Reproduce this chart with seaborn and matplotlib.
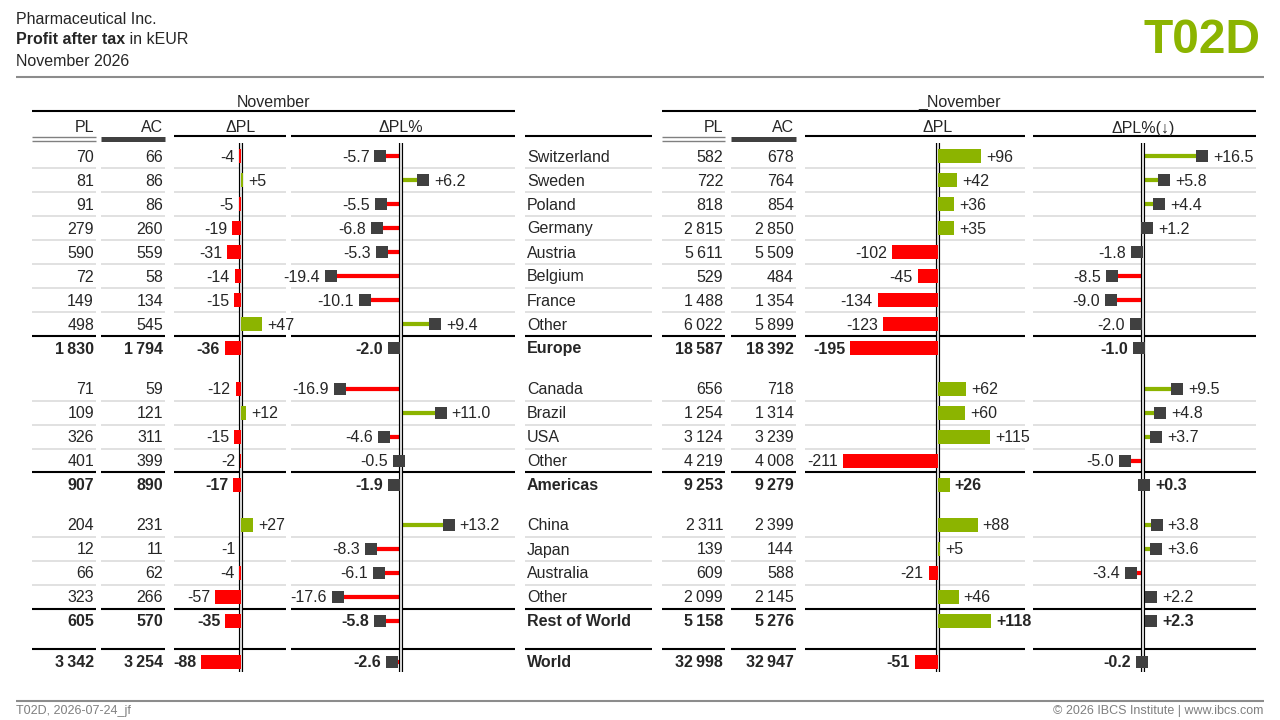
import matplotlib
matplotlib.use("Agg")
import matplotlib.pyplot as plt
import seaborn as sns
import pandas as pd
import numpy as np

# ---- data (kEUR) ----
countries = ["Switzerland", "Sweden", "Poland", "Germany", "Austria", "Belgium", "France", "Other", "Europe",
             "Canada", "Brazil", "USA", "Other", "Americas",
             "China", "Japan", "Australia", "Other", "Rest of World", "World"]
totals = ["Europe", "Americas", "Rest of World", "World"]

left_pl = [70, 81, 91, 279, 590, 72, 149, 498, 1830, 71, 109, 326, 401, 907, 204, 12, 66, 323, 605, 3342]
left_ac = [66, 86, 86, 260, 559, 58, 134, 545, 1794, 59, 121, 311, 399, 890, 231, 11, 62, 266, 570, 3254]
left_dpl = [-4, 5, -5, -19, -31, -14, -15, 47, -36, -12, 12, -15, -2, -17, 27, -1, -4, -57, -35, -88]
left_dplp = [-5.7, 6.2, -5.5, -6.8, -5.3, -19.4, -10.1, 9.4, -2.0, -16.9, 11.0, -4.6, -0.5, -1.9,
             13.2, -8.3, -6.1, -17.6, -5.8, -2.6]

right_pl = [582, 722, 818, 2815, 5611, 529, 1488, 6022, 18587, 656, 1254, 3124, 4219, 9253,
            2311, 139, 609, 2099, 5158, 32998]
right_ac = [678, 764, 854, 2850, 5509, 484, 1354, 5899, 18392, 718, 1314, 3239, 4008, 9279,
            2399, 144, 588, 2145, 5276, 32947]
right_dpl = [96, 42, 36, 35, -102, -45, -134, -123, -195, 62, 60, 115, -211, 26, 88, 5, -21, 46, 118, -51]
right_dplp = [16.5, 5.8, 4.4, 1.2, -1.8, -8.5, -9.0, -2.0, -1.0, 9.5, 4.8, 3.7, -5.0, 0.3,
              3.8, 3.6, -3.4, 2.2, 2.3, -0.2]

# ---- style ----
sns.set_theme(style="white")
plt.rcParams["font.family"] = ["Liberation Sans", "DejaVu Sans"]

W, H = 1280, 720
FS = 11.5
BASE = 5.5          # baseline below row centre (px)
GREEN = "#8cb400"
RED = "#ff0000"
DARK = "#404040"
GRID = "#dcdcdc"
BAR_SCALE = 0.45    # px per kEUR
PIN_SCALE = 3.6     # px per %-point
PT = 0.72           # points per pixel

is_total = [c in totals for c in countries]
ys = []
y = 156.0
for c in countries:
    ys.append(y)
    y += 24 + (16.5 if c in totals else 0)

fig = plt.figure(figsize=(12.8, 7.2), dpi=100)
tab = fig.add_axes([0, 0, 1, 1])
tab.set_xlim(0, W)
tab.set_ylim(H, 0)
tab.axis("off")


def fmt_int(v):
    return f"{v:,}".replace(",", "\u2009")


def weight(tot):
    return "bold" if tot else "normal"


def row_lines(a, b):
    for i, (yy, tot) in enumerate(zip(ys, is_total)):
        if tot:
            tab.hlines(yy - 12.5, a, b, color="black", lw=1.5, zorder=1)
        elif i > 0 and not is_total[i - 1]:
            tab.hlines(yy - 12, a, b, color=GRID, lw=1.2, zorder=1)


def col_axes(a, b):
    return fig.add_axes([a / W, 0, (b - a) / W, 1])


def finish_axes(ax, a, b, zero, scale):
    ax.vlines(0, 143, 672, color="black", lw=3.0, zorder=3)
    ax.vlines(0, 143, 672, color="white", lw=1.2, zorder=3.1)
    ax.set_xlim((a - zero) / scale, (b - zero) / scale)
    ax.set_ylim(H, 0)
    ax.axis("off")


def draw_section(title, pct_head, pl, ac, dpl, dplp, pl_x, ac_x, bar_x, pin_x):
    x0, x1 = pl_x[0], pin_x[1]
    tab.hlines(111, x0, x1, color="black", lw=1.5)
    tab.text((x0 + x1) / 2, 101.5 + BASE, title, ha="center", va="baseline", fontsize=FS)

    # PL / AC headers with scenario markers
    tab.text(pl_x[1] - 2, 127 + BASE, "PL", ha="right", va="baseline", fontsize=FS)
    tab.text(ac_x[1] - 2, 127 + BASE, "AC", ha="right", va="baseline", fontsize=FS)
    tab.hlines([137, 140.5], pl_x[0], pl_x[1], color="#808080", lw=1.0)
    tab.hlines(138.5, ac_x[0], ac_x[1], color=DARK, lw=3.6)

    # delta headers
    tab.text(bar_x[2], 127 + BASE, "ΔPL", ha="center", va="baseline", fontsize=FS)
    tab.text(pin_x[2], 127 + BASE, pct_head, ha="center", va="baseline", fontsize=FS)
    tab.hlines(136, bar_x[0], bar_x[1], color="black", lw=1.5)
    tab.hlines(136, pin_x[0], pin_x[1], color="black", lw=1.5)

    for a, b in (pl_x, ac_x, bar_x[:2], pin_x[:2]):
        row_lines(a, b)

    for yy, p, c, tot in zip(ys, pl, ac, is_total):
        tab.text(pl_x[1] - 2, yy + BASE, fmt_int(p), ha="right", va="baseline",
                 fontsize=FS, fontweight=weight(tot))
        tab.text(ac_x[1] - 2, yy + BASE, fmt_int(c), ha="right", va="baseline",
                 fontsize=FS, fontweight=weight(tot))

    # ΔPL bars
    ax = col_axes(bar_x[0], bar_x[1])
    df = pd.DataFrame({"y": ys, "v": dpl,
                       "sign": np.where(np.array(dpl) >= 0, "pos", "neg")})
    sns.barplot(data=df, x="v", y="y", hue="sign", palette={"pos": GREEN, "neg": RED},
                orient="y", native_scale=True, width=14 / 24, dodge=False, legend=False,
                saturation=1, errorbar=None, linewidth=0, ax=ax, zorder=4)
    for yy, v, tot in zip(ys, dpl, is_total):
        off = 5 * PT if v >= 0 else -5 * PT
        ax.annotate(f"{v:+d}", (v, yy + BASE), xytext=(off, 0), textcoords="offset points",
                    ha="left" if v >= 0 else "right", va="baseline",
                    fontsize=FS, fontweight=weight(tot))
    finish_axes(ax, bar_x[0], bar_x[1], bar_x[2], BAR_SCALE)

    # ΔPL% pins
    ax = col_axes(pin_x[0], pin_x[1])
    colors = [GREEN if v >= 0 else RED for v in dplp]
    ax.hlines(ys, 0, dplp, colors=colors, lw=4.2 * PT, zorder=2)
    sns.scatterplot(x=dplp, y=ys, marker="s", s=74, color=DARK, linewidth=0, ax=ax, zorder=4)
    for yy, v, tot in zip(ys, dplp, is_total):
        off = 11 * PT if v >= 0 else -11 * PT
        ax.annotate(f"{v:+.1f}", (v, yy + BASE), xytext=(off, 0), textcoords="offset points",
                    ha="left" if v >= 0 else "right", va="baseline",
                    fontsize=FS, fontweight=weight(tot))
    finish_axes(ax, pin_x[0], pin_x[1], pin_x[2], PIN_SCALE)


draw_section("November", "ΔPL%", left_pl, left_ac, left_dpl, left_dplp,
             (32, 96), (101, 165), (174, 286, 241), (291, 515, 401))
draw_section("_November", "ΔPL%(\u2193)", right_pl, right_ac, right_dpl, right_dplp,
             (662, 725), (731, 796), (805, 1025, 938), (1033, 1256, 1143))

# country column
tab.hlines(136, 525, 652, color="black", lw=1.5)
row_lines(525, 652)
for yy, c, tot in zip(ys, countries, is_total):
    tab.text(527, yy + BASE, c, ha="left", va="baseline", fontsize=FS, fontweight=weight(tot))

# title block
tab.text(16, 23.5, "Pharmaceutical Inc.", fontsize=FS, va="baseline")
t1 = tab.text(16, 44.5, "Profit after tax", fontsize=FS, fontweight="bold", va="baseline")
tab.annotate(" in kEUR", xy=(1, 0), xycoords=t1, fontsize=FS, va="bottom", ha="left")
tab.text(16, 65.5, "November 2026", fontsize=FS, va="baseline")
tab.text(1261, 53, "T02D", fontsize=34.5, fontweight="bold", color=GREEN, ha="right", va="baseline")
tab.hlines(77, 16, 1264, color="#8c8c8c", lw=1.5)

# footer
tab.hlines(701, 16, 1264, color="#8c8c8c", lw=1.5)
tab.text(16, 714, "T02D, 2026-07-24_jf", fontsize=9, color="#7f7f7f", va="baseline")
tab.text(1263, 714, "\u00a9 2026 IBCS Institute | www.ibcs.com", fontsize=9, color="#7f7f7f",
         ha="right", va="baseline")

fig.savefig("out.png", dpi=100)
